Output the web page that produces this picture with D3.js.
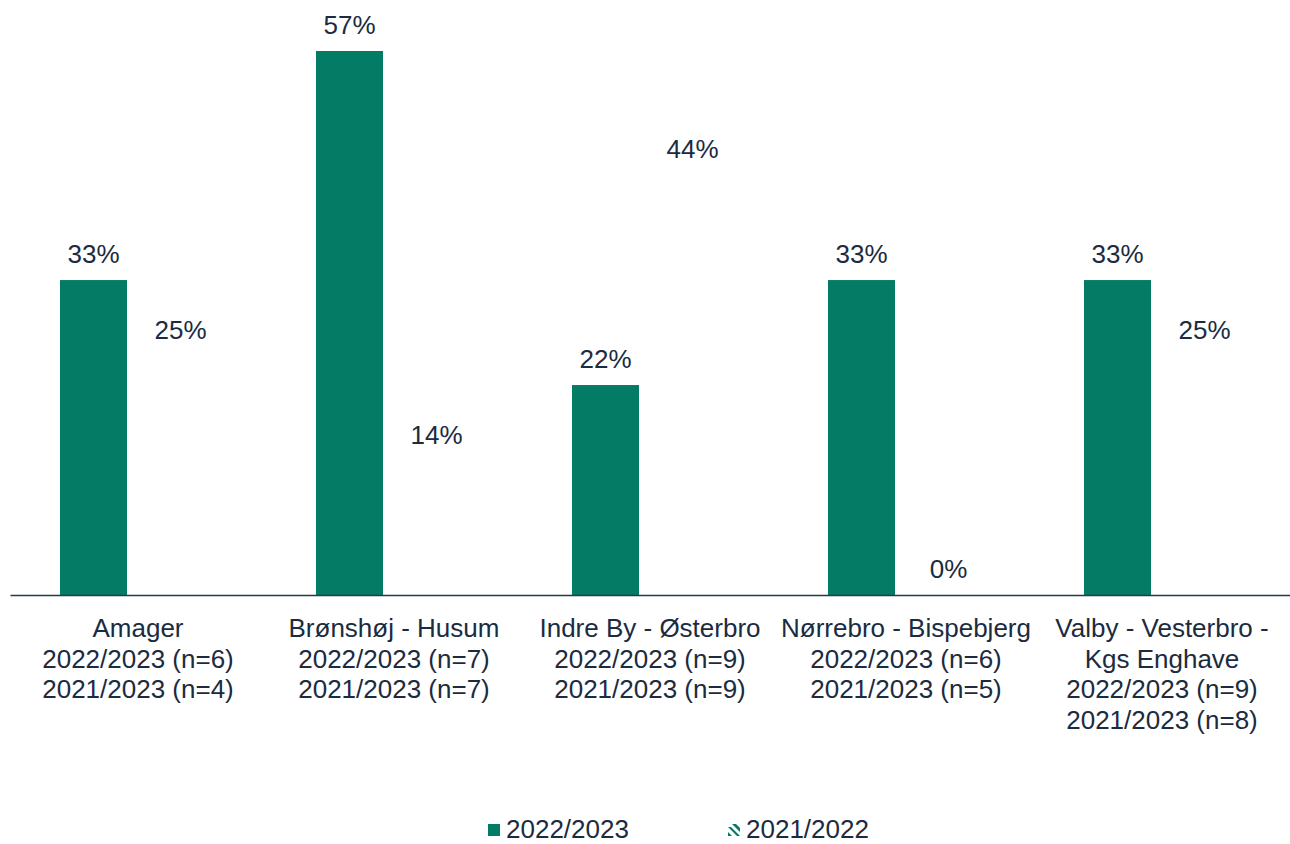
<!DOCTYPE html>
<html><head><meta charset="utf-8">
<script src="https://cdn.jsdelivr.net/npm/d3@7"></script>
<style>html,body{margin:0;padding:0;background:#fff;}svg{display:block;}</style>
</head><body>
<script>
const categories = [
  ["Amager","2022/2023 (n=6)","2021/2023 (n=4)"],
  ["Brønshøj - Husum","2022/2023 (n=7)","2021/2023 (n=7)"],
  ["Indre By - Østerbro","2022/2023 (n=9)","2021/2023 (n=9)"],
  ["Nørrebro - Bispebjerg","2022/2023 (n=6)","2021/2023 (n=5)"],
  ["Valby - Vesterbro -","Kgs Enghave","2022/2023 (n=9)","2021/2023 (n=8)"]
];
const seriesNames = ["2022/2023","2021/2022"];
const values2223 = [33,57,22,33,33];
const values2122 = [25,14,44,0,25];

const W=1290,H=844, FS=26;
const font="Liberation Sans, Arial, sans-serif";
const svg=d3.select("body").append("svg").attr("width",W).attr("height",H);

const textColor="#1B2B40", green="#047B64";
const x0=d3.scaleBand().domain(d3.range(categories.length)).range([10,1290]);
const x1=d3.scaleBand().domain(seriesNames).range([50,204]).paddingInner(20/87).paddingOuter(0);
const y=d3.scaleLinear().domain([0,57]).range([595,51]);

const data=categories.map((c,i)=>({i,vals:[values2223[i],values2122[i]]}));
const g=svg.selectAll("g.cat").data(data).join("g").attr("transform",d=>`translate(${x0(d.i)},0)`);
g.selectAll("rect").data(d=>d.vals.map((v,k)=>({v,k}))).join("rect")
  .attr("x",d=>x1(seriesNames[d.k])).attr("width",x1.bandwidth())
  .attr("y",d=>y(d.v)).attr("height",d=>y(0)-y(d.v))
  .attr("fill",d=>d.k===0?green:"#ffffff");
g.selectAll("text.val").data(d=>d.vals.map((v,k)=>({v,k}))).join("text").attr("class","val")
  .attr("x",d=>x1(seriesNames[d.k])+x1.bandwidth()/2).attr("y",d=>y(d.v)-17.5)
  .attr("text-anchor","middle").attr("font-family",font)
  .attr("font-size",FS).attr("fill",textColor).text(d=>d.v+"%");

const axis=svg.append("g").attr("transform","translate(0,595)")
  .call(d3.axisBottom(x0).tickSize(0).tickFormat(""));
axis.select(".domain").attr("stroke","#26384C").attr("stroke-width",1.5);

g.each(function(d){
  const t=d3.select(this).append("text").attr("text-anchor","middle")
    .attr("font-family",font).attr("font-size",FS).attr("fill",textColor);
  categories[d.i].forEach((line,j)=>{
    t.append("tspan").attr("x",x0.bandwidth()/2).attr("y",637+j*30.5).text(line);
  });
});

const leg=svg.append("g");
const items=[{n:seriesNames[0],x:488},{n:seriesNames[1],x:728}];
const ly=824;
items.forEach((it,k)=>{
  if(k===0) leg.append("rect").attr("x",it.x).attr("y",ly).attr("width",12).attr("height",12).attr("fill",green);
  else {
    const ic=leg.append("g");
    ic.append("path").attr("d",`M${it.x},${ly+3} l3,0 l9,9 l-3,0 Z`).attr("fill",green);
    ic.append("path").attr("d",`M${it.x+4},${ly} l4,0 l4,4 l0,4 Z`).attr("fill",green);
    ic.append("path").attr("d",`M${it.x},${ly+8} l4,4 l-4,0 Z`).attr("fill",green);
  }
  leg.append("text").attr("x",it.x+18).attr("y",ly+14).attr("font-family",font)
    .attr("font-size",FS).attr("fill",textColor).text(it.n);
});
</script>
</body></html>
